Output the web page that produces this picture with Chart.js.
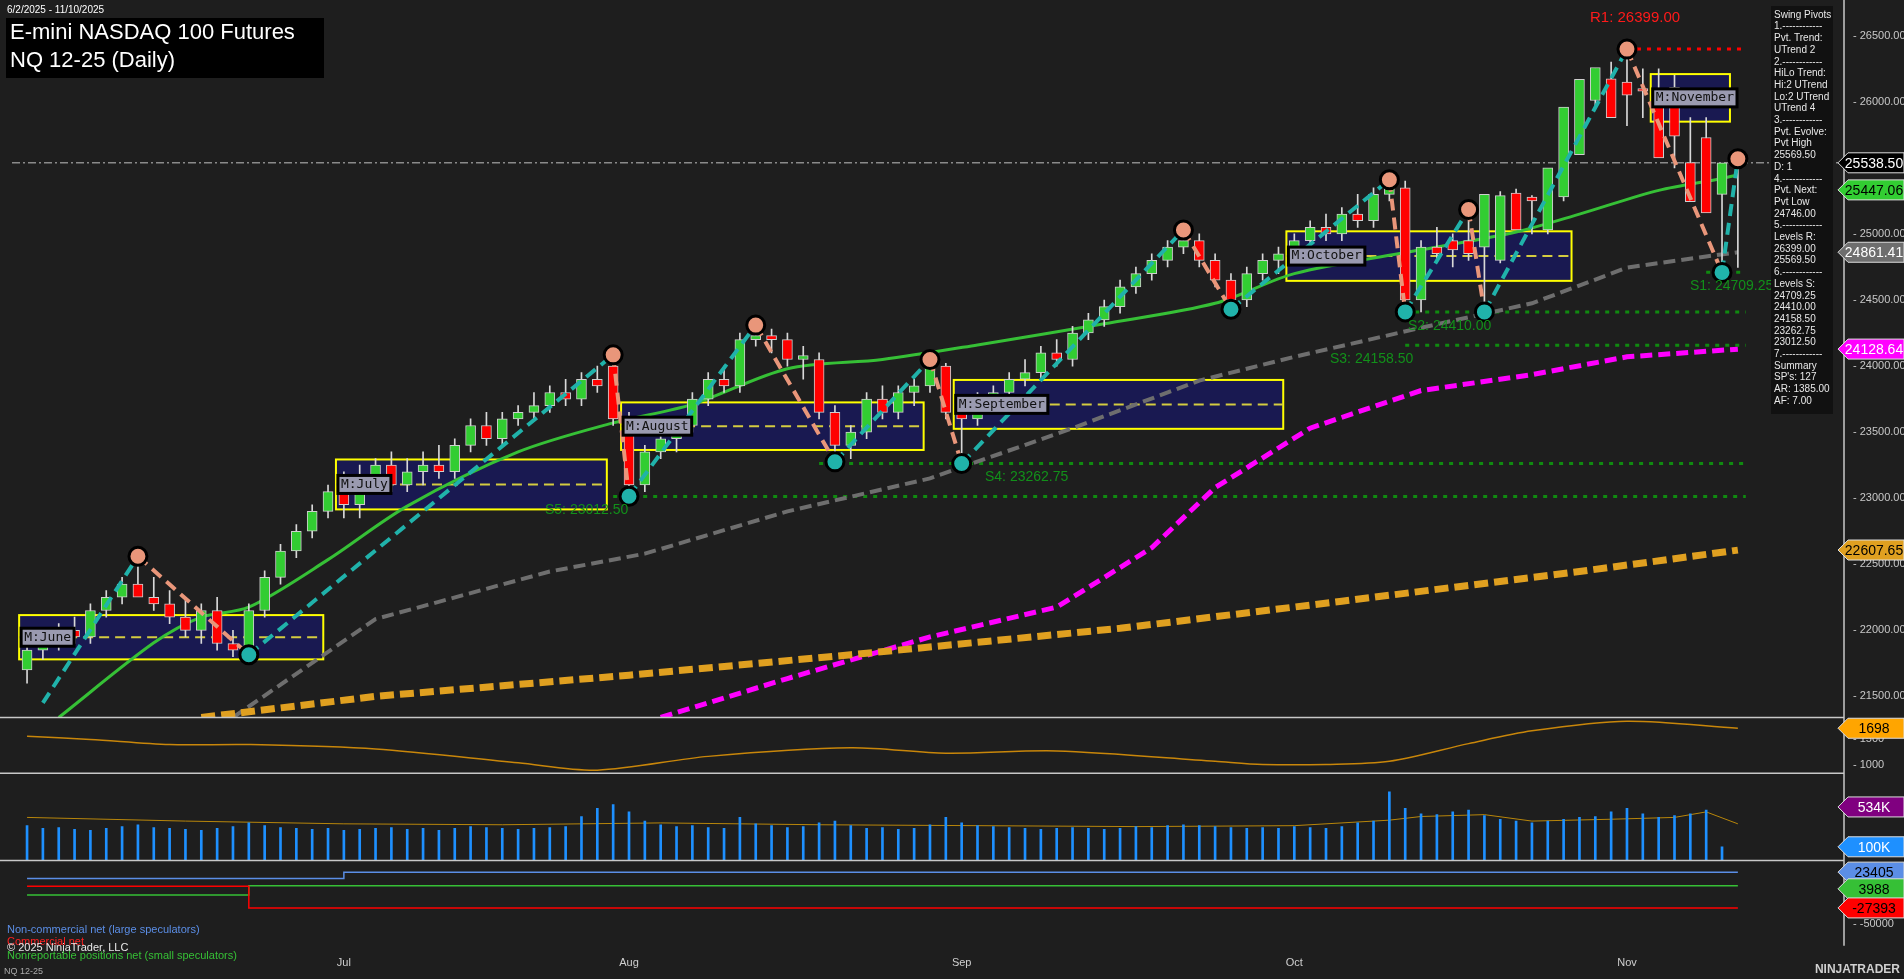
<!DOCTYPE html>
<html>
<head>
<meta charset="utf-8">
<script src="https://cdn.jsdelivr.net/npm/chart.js@4.4.0/dist/chart.umd.min.js"></script>
<style>
  html, body { margin: 0; padding: 0; background: #1e1e1e; overflow: hidden; }
  #wrap { width: 1904px; height: 979px; }
</style>
</head>
<body>
<div id="wrap"><canvas id="chart" width="1904" height="979"></canvas></div>
<script>
// daily candles, 6/2/2025 - 11/10/2025
const openP = [21700,21850,21900,22000,21950,22150,22250,22350,22250,22200,22100,22000,22150,21900,21850,22150,22400,22600,22750,22900,
  23050,22950,23150,23250,23100,23200,23250,23200,23400,23550,23450,23600,23650,23700,23800,23750,23900,24000,
  23600,23100,23350,23450,23550,23750,23900,23850,24200,24230,24200,24050,24050,23650,23400,23500,23750,23650,23800,23850,24000,
  23650,23600,23750,23800,23900,23950,24100,24050,24250,24350,24450,24600,24700,24800,24900,24950,24800,24650,24500,24700,24800,
  24850,24950,25050,25000,25150,25100,25300,25350,24500,24900,24950,24950,24900,24800,25310,25280,25030,25280,25600,26010,26175,
  26150,26100,26000,26110,25540,25730,25300,24850];
const highP = [21900,21950,22050,22100,22200,22300,22400,22560,22400,22300,22250,22200,22250,22000,22200,22450,22650,22800,22950,23100,
  23200,23250,23300,23350,23300,23350,23400,23450,23600,23650,23650,23700,23800,23850,23900,23950,24000,24085,
  23650,23400,23500,23600,23800,23950,24000,24250,24310,24280,24250,24150,24100,23700,23550,23800,23850,23850,23900,24050,24020,
  23700,23800,23850,23950,24050,24150,24200,24300,24400,24500,24650,24750,24850,24950,25030,25000,24850,24700,24750,24850,24900,
  25000,25100,25150,25200,25300,25350,25410,25400,24950,25050,25000,25185,25000,25320,25340,25290,25280,25520,25980,26250,26300,
  26399,26250,26250,26200,25880,25880,25350,25600];
const lowP = [21600,21780,21850,21900,21900,22100,22200,22300,22150,22050,21950,21900,21850,21800,21815,22100,22350,22550,22700,22850,
  22850,22850,23050,23050,23050,23100,23150,23150,23350,23400,23400,23550,23600,23650,23700,23700,23800,23550,
  23015,23050,23300,23350,23500,23700,23800,23800,24150,24100,24000,23900,23600,23275,23300,23450,23600,23600,23700,23800,23600,
  23275,23550,23650,23750,23850,23900,24000,24000,24200,24300,24400,24550,24650,24750,24850,24750,24600,24430,24450,24650,24700,
  24800,24900,24950,24950,25050,25050,25250,24450,24410,24800,24750,24800,24410,24780,25200,25000,25000,25250,25700,25950,26150,
  25820,25880,25900,25500,25350,25200,24712,24746];
const closeP = [21850,21900,22000,21950,22150,22250,22350,22250,22200,22100,22000,22150,21900,21850,22150,22400,22600,22750,22900,23050,
  22950,23150,23250,23100,23200,23250,23200,23400,23550,23450,23600,23650,23700,23800,23750,23900,23850,23600,
  23100,23350,23450,23550,23750,23900,23850,24200,24230,24200,24050,24080,23650,23400,23500,23750,23650,23800,23850,24000,23650,
  23600,23750,23800,23900,23950,24100,24050,24250,24350,24450,24600,24700,24800,24900,24950,24800,24650,24500,24700,24800,24850,
  24950,25050,25000,25150,25100,25300,25350,24500,24900,24850,24880,24850,25300,25290,25030,25250,25500,25960,26170,26260,
  25880,26050,26080,25575,25740,25245,25160,25538];
const volumeK = [330,300,310,290,280,300,320,340,310,300,290,280,300,320,360,330,310,300,290,300,
  280,290,300,310,290,300,280,300,320,310,300,290,300,310,320,430,520,560,
  480,380,340,320,330,310,300,420,350,330,310,320,360,380,330,300,310,290,300,340,420,
  360,330,320,310,300,290,300,310,300,290,300,320,310,330,340,330,320,310,300,310,
  300,320,310,300,320,360,380,700,520,460,450,480,500,440,400,380,360,380,400,420,430,
  480,520,460,420,440,460,500,100];
const volAvgIdx = [0,10,20,30,40,50,60,70,80,86,88,90,92,95,100,104,106,108];
const volAvgK = [420,380,350,340,360,340,330,320,330,390,430,440,450,380,400,420,480,350];

const atrIdx = [0,4,9,14,22,31,36,43,52,58,65,75,78,82,86,91,95,101,108];
const atrVal = [1548,1488,1391,1391,1307,1048,910,1169,1331,1229,1271,1078,1018,1018,1078,1409,1650,1831,1698];

const cotIdx = [0,13,14,19,20,108];
const cotNonComm = [14300,14300,14300,14300,23405,23405];
const cotComm = [3500,3500,-27393,-27393,-27393,-27393];
const cotSmall = [-9200,-9200,3988,3988,3988,3988];

const ma20Idx = [2,8,11,14,19,24,31,37,42,48,54,60,68,75,80,88,94,98,103,107,108];
const ma20 = [21340,21905,22100,22175,22535,22940,23350,23570,23710,23980,24050,24160,24320,24475,24700,24880,25015,25150,25330,25420,25447];
const ma50Idx = [13,22,33,39,48,57,66,74,80,88,95,101,106,108];
const ma50 = [21340,22085,22445,22580,22900,23150,23530,23890,24070,24290,24475,24745,24830,24861];
const ma100Idx = [40,48,57,65,71,75,81,88,95,101,108];
const ma100 = [21340,21635,21950,22175,22625,23080,23530,23815,23935,24070,24128];
const ma200Idx = [11,22,38,52,69,83,98,108];
const ma200 = [21340,21500,21660,21815,22015,22220,22445,22607];

// swing pivots (zigzag)
const pivotIdx = [1,7,14,37,38,46,51,57,59,73,76,86,87,91,92,101,107,108];
const pivotVal = [21450,22560,21815,24085,23015,24310,23275,24050,23262,25030,24430,25410,24410,25185,24410,26399,24709,25569];

// monthly boxes
const boxName = ['M:June','M:July','M:August','M:September','M:October','M:November'];
const boxStart = [-0.5,19.5,37.5,58.5,79.5,102.5];
const boxEnd = [18.7,36.6,56.6,79.3,97.5,107.5];
const boxHigh = [22115,23293,23725,23895,25020,26210];
const boxLow = [21780,22915,23365,23525,24645,25850];

const levelName = ['S1: 24709.25','S2: 24410.00','S3: 24158.50','S4: 23262.75','S5: 23012.50'];
const levelVal = [24709.25,24410,24158.5,23262.75,23012.5];
const levelFrom = [106,87,87,50,37];
const monthTickIdx = [20,38,59,80,101];
const monthTickName = ['Jul','Aug','Sep','Oct','Nov'];

const infoLines = ['Swing Pivots','1.------------','Pvt. Trend:','UTrend 2','2.------------','HiLo Trend:','Hi:2 UTrend','Lo:2 UTrend','UTrend 4',
  '3.------------','Pvt. Evolve:','Pvt High','25569.50','D: 1','4.------------','Pvt. Next:','Pvt Low','24746.00','5.------------',
  'Levels R:','26399.00','25569.50','6.------------','Levels S:','24709.25','24410.00','24158.50','23262.75','23012.50','7.------------',
  'Summary',"SP's: 127",'AR: 1385.00','AF: 7.00'];

const pts = (xs, ys) => xs.map((x, i) => ({ x: x, y: ys[i] }));
const bodies = openP.map((o, i) => ({ x: i, y: [Math.min(o, closeP[i]), Math.max(o, closeP[i]) + (o === closeP[i] ? 5 : 0)] }));
const wicks = openP.map((o, i) => ({ x: i, y: [lowP[i], highP[i]] }));
const upColors = openP.map((o, i) => closeP[i] >= o ? '#32cd32' : '#ff0000');

// split zigzag into up-legs and down-legs
const upLegs = [], downLegs = [];
for (let i = 0; i < pivotIdx.length - 1; i++) {
  const a = { x: pivotIdx[i], y: pivotVal[i] }, b = { x: pivotIdx[i + 1], y: pivotVal[i + 1] };
  const target = pivotVal[i + 1] > pivotVal[i] ? upLegs : downLegs;
  target.push(a, b, { x: pivotIdx[i + 1] + 0.01, y: null });
}
const highPivots = [], lowPivots = [];
for (let i = 1; i < pivotIdx.length; i++) {
  const p = { x: pivotIdx[i], y: pivotVal[i] };
  if (pivotVal[i] > pivotVal[i - 1]) highPivots.push(p); else lowPivots.push(p);
}

function tag(ctx, y, text, bg, fg) {
  const x = 1838;
  ctx.beginPath();
  ctx.moveTo(x, y);
  ctx.lineTo(x + 10, y - 10);
  ctx.lineTo(1904, y - 10);
  ctx.lineTo(1904, y + 10);
  ctx.lineTo(x + 10, y + 10);
  ctx.closePath();
  ctx.fillStyle = bg;
  ctx.fill();
  ctx.strokeStyle = '#dddddd';
  ctx.lineWidth = 1;
  ctx.stroke();
  ctx.fillStyle = fg;
  ctx.font = '14px Arial';
  ctx.textAlign = 'center';
  ctx.textBaseline = 'middle';
  ctx.fillText(text, 1874, y + 1);
}

const overlay = {
  id: 'overlay',
  beforeDatasetsDraw(chart) {
    const ctx = chart.ctx, xs = chart.scales.x, ys = chart.scales.y;
    ctx.save();
    // month boxes
    boxName.forEach((n, i) => {
      const x1 = xs.getPixelForValue(boxStart[i]), x2 = xs.getPixelForValue(boxEnd[i]);
      const y1 = ys.getPixelForValue(boxHigh[i]), y2 = ys.getPixelForValue(boxLow[i]);
      ctx.fillStyle = '#191951';
      ctx.fillRect(x1, y1, x2 - x1, y2 - y1);
      ctx.strokeStyle = '#ffff00';
      ctx.lineWidth = 2;
      ctx.strokeRect(x1, y1, x2 - x1, y2 - y1);
      ctx.setLineDash([10, 6]);
      ctx.strokeStyle = '#d4cc40';
      ctx.beginPath();
      ctx.moveTo(x1, (y1 + y2) / 2);
      ctx.lineTo(x2, (y1 + y2) / 2);
      ctx.stroke();
      ctx.setLineDash([]);
    });
    // support levels
    ctx.setLineDash([4, 6]);
    ctx.lineWidth = 3;
    ctx.strokeStyle = '#108a10';
    levelVal.forEach((v, i) => {
      const y = ys.getPixelForValue(v);
      ctx.beginPath();
      ctx.moveTo(xs.getPixelForValue(levelFrom[i]), y);
      ctx.lineTo(xs.getPixelForValue(108.5), y);
      ctx.stroke();
    });
    // R1
    ctx.strokeStyle = '#ff0000';
    ctx.beginPath();
    ctx.moveTo(xs.getPixelForValue(101), ys.getPixelForValue(26399));
    ctx.lineTo(xs.getPixelForValue(108.5), ys.getPixelForValue(26399));
    ctx.stroke();
    // last price dash-dot line
    ctx.setLineDash([8, 3, 2, 3]);
    ctx.lineWidth = 1.5;
    ctx.strokeStyle = '#8a8a8a';
    const yl = ys.getPixelForValue(25538.5);
    ctx.beginPath();
    ctx.moveTo(chart.chartArea.left, yl);
    ctx.lineTo(chart.chartArea.right, yl);
    ctx.stroke();
    ctx.setLineDash([]);
    ctx.restore();
  },
  afterDatasetsDraw(chart) {
    const ctx = chart.ctx, xs = chart.scales.x, ys = chart.scales.y;
    ctx.save();
    // month labels
    ctx.font = '13px "DejaVu Sans Mono"';
    ctx.textBaseline = 'middle';
    ctx.textAlign = 'left';
    boxName.forEach((n, i) => {
      const x1 = xs.getPixelForValue(boxStart[i]) + 2;
      const ym = (ys.getPixelForValue(boxHigh[i]) + ys.getPixelForValue(boxLow[i])) / 2;
      const w = ctx.measureText(n).width + 6;
      ctx.fillStyle = '#9a9ab0';
      ctx.fillRect(x1, ym - 9, w, 18);
      ctx.strokeStyle = '#000';
      ctx.lineWidth = 3;
      ctx.strokeRect(x1, ym - 9, w, 18);
      ctx.fillStyle = '#111';
      ctx.fillText(n, x1 + 3, ym);
    });
    // level labels
    ctx.font = '14px Arial';
    ctx.fillStyle = '#12901a';
    const lblX = [1690, 1408, 1330, 985, 545];
    levelName.forEach((n, i) => ctx.fillText(n, lblX[i], ys.getPixelForValue(levelVal[i]) + 14));
    ctx.fillStyle = '#ff1a1a';
    ctx.font = '15px Arial';
    ctx.fillText('R1: 26399.00', 1590, 18);
    // title
    ctx.fillStyle = '#000';
    ctx.fillRect(6, 18, 318, 60);
    ctx.fillStyle = '#fff';
    ctx.font = '22px Arial';
    ctx.textBaseline = 'top';
    ctx.fillText('E-mini NASDAQ 100 Futures', 10, 22);
    ctx.fillText('NQ 12-25 (Daily)', 10, 50);
    ctx.font = '10px Arial';
    ctx.fillText('6/2/2025 - 11/10/2025', 7, 5);
    // info box
    ctx.fillStyle = '#111';
    ctx.fillRect(1771, 6, 62, 408);
    ctx.fillStyle = '#e8e8e8';
    ctx.font = '10px Arial';
    infoLines.forEach((l, i) => ctx.fillText(l, 1774, 10 + i * 11.7));
    // panel separators
    ctx.strokeStyle = '#c8c8c8';
    ctx.lineWidth = 1.5;
    ['y', 'yAtr', 'yVol'].forEach(id => {
      const b = chart.scales[id].bottom;
      ctx.beginPath();
      ctx.moveTo(0, b);
      ctx.lineTo(1844, b);
      ctx.stroke();
    });
    ctx.beginPath();
    ctx.moveTo(1844, 0);
    ctx.lineTo(1844, chart.scales.yCot.bottom);
    ctx.stroke();
    // legend
    ctx.font = '11px Arial';
    ctx.fillStyle = '#5b8ee6';
    ctx.fillText('Non-commercial net (large speculators)', 7, 924);
    ctx.fillStyle = '#ff2020';
    ctx.fillText('Commercial net', 7, 936);
    ctx.fillStyle = '#e8e8e8';
    ctx.fillText('\u00a9 2025 NinjaTrader, LLC', 7, 942);
    ctx.fillStyle = '#36c036';
    ctx.fillText('Nonreportable positions net (small speculators)', 7, 950);
    ctx.fillStyle = '#aaa';
    ctx.font = '9px Arial';
    ctx.fillText('NQ 12-25', 4, 967);
    ctx.font = 'bold 12px Arial';
    ctx.fillStyle = '#d0d0d0';
    ctx.textAlign = 'right';
    ctx.fillText('NINJATRADER', 1900, 964);
    // price tags
    tag(ctx, ys.getPixelForValue(25538.5), '25538.50', '#000', '#fff');
    tag(ctx, ys.getPixelForValue(25447.06) + 15, '25447.06', '#32cd32', '#000');
    tag(ctx, ys.getPixelForValue(24861.41), '24861.41', '#6e6e6e', '#fff');
    tag(ctx, ys.getPixelForValue(24128.64), '24128.64', '#ff00ff', '#fff');
    tag(ctx, ys.getPixelForValue(22607.65), '22607.65', '#e0a020', '#000');
    tag(ctx, chart.scales.yAtr.getPixelForValue(1698), '1698', '#ffa500', '#000');
    tag(ctx, chart.scales.yVol.getPixelForValue(534000), '534K', '#800080', '#fff');
    tag(ctx, chart.scales.yVol.getPixelForValue(100000), '100K', '#1e90ff', '#fff');
    tag(ctx, chart.scales.yCot.getPixelForValue(23405), '23405', '#5b8ee6', '#000');
    tag(ctx, chart.scales.yCot.getPixelForValue(3988) + 3, '3988', '#36c036', '#000');
    tag(ctx, chart.scales.yCot.getPixelForValue(-27393), '-27393', '#ff0000', '#000');
    ctx.restore();
  }
};

const ctx = document.getElementById('chart').getContext('2d');
new Chart(ctx, {
  type: 'bar',
  data: {
    datasets: [
      { type: 'line', data: pts(ma200Idx, ma200), yAxisID: 'y', borderColor: '#e0a020', borderWidth: 7, borderDash: [14, 6], pointRadius: 0, order: 9 },
      { type: 'line', data: pts(ma100Idx, ma100), yAxisID: 'y', borderColor: '#ff00ff', borderWidth: 5, borderDash: [12, 6], pointRadius: 0, order: 9 },
      { type: 'line', data: pts(ma50Idx, ma50), yAxisID: 'y', borderColor: '#6e6e6e', borderWidth: 4, borderDash: [12, 6], pointRadius: 0, order: 9 },
      { type: 'line', data: pts(ma20Idx, ma20), yAxisID: 'y', borderColor: '#36c036', borderWidth: 3, pointRadius: 0, tension: 0.3, order: 8 },
      { data: wicks, yAxisID: 'y', backgroundColor: '#d8d8d8', barThickness: 1, grouped: false, order: 6 },
      { data: bodies, yAxisID: 'y', backgroundColor: upColors, borderColor: '#cfcfcf', borderWidth: 1, borderSkipped: false, barThickness: 10, grouped: false, order: 5 },
      { type: 'line', data: upLegs, yAxisID: 'y', borderColor: '#20b2aa', borderWidth: 4, borderDash: [12, 7], pointRadius: 0, spanGaps: false, order: 3 },
      { type: 'line', data: downLegs, yAxisID: 'y', borderColor: '#e9967a', borderWidth: 4, borderDash: [12, 7], pointRadius: 0, spanGaps: false, order: 3 },
      { type: 'scatter', data: highPivots, yAxisID: 'y', pointRadius: 9, backgroundColor: '#e9967a', borderColor: '#000', borderWidth: 3, order: 2 },
      { type: 'scatter', data: lowPivots, yAxisID: 'y', pointRadius: 9, backgroundColor: '#20b2aa', borderColor: '#000', borderWidth: 3, order: 2 },
      { type: 'line', data: pts(atrIdx, atrVal), yAxisID: 'yAtr', borderColor: '#c8860a', borderWidth: 1.5, pointRadius: 0, tension: 0.3 },
      { data: volumeK.map((v, i) => ({ x: i, y: [-50000, v * 1000] })), yAxisID: 'yVol', backgroundColor: '#1e90ff', barThickness: 2, grouped: false },
      { type: 'line', data: volAvgIdx.map((x, i) => ({ x: x, y: volAvgK[i] * 1000 })), yAxisID: 'yVol', borderColor: '#b8860b', borderWidth: 1, pointRadius: 0 },
      { type: 'line', data: pts(cotIdx, cotNonComm), yAxisID: 'yCot', borderColor: '#5b8ee6', borderWidth: 1.5, pointRadius: 0, stepped: true },
      { type: 'line', data: pts(cotIdx, cotComm), yAxisID: 'yCot', borderColor: '#ff0000', borderWidth: 1.5, pointRadius: 0, stepped: true },
      { type: 'line', data: pts(cotIdx, cotSmall), yAxisID: 'yCot', borderColor: '#36c036', borderWidth: 1.5, pointRadius: 0, stepped: true }
    ]
  },
  options: {
    responsive: false,
    animation: false,
    layout: { padding: { top: 0, bottom: 6, left: 0, right: 0 } },
    plugins: { legend: { display: false }, tooltip: { enabled: false } },
    scales: {
      x: {
        type: 'linear', min: -0.95, max: 114.7, offset: false,
        grid: { display: false }, border: { display: false },
        afterBuildTicks: s => { s.ticks = monthTickIdx.map(v => ({ value: v })); },
        ticks: { color: '#d0d0d0', font: { size: 11 }, maxRotation: 0, autoSkip: false,
          callback: v => monthTickName[monthTickIdx.indexOf(v)] }
      },
      y: {
        position: 'right', stack: 'p', stackWeight: 720, min: 21340, max: 26680,
        grid: { display: false }, border: { display: false },
        afterFit: s => { s.width = 60; },
        afterBuildTicks: s => { s.ticks = [26500, 26000, 25500, 25000, 24500, 24000, 23500, 23000, 22500, 22000, 21500].map(v => ({ value: v })); },
        ticks: { color: '#c8c8c8', font: { size: 11 }, padding: 1, callback: v => '- ' + v.toFixed(2) }
      },
      yAtr: {
        position: 'right', stack: 'p', stackWeight: 57, min: 850, max: 1900,
        grid: { display: false }, border: { display: false },
        afterFit: s => { s.width = 60; },
        afterBuildTicks: s => { s.ticks = [1000, 1500].map(v => ({ value: v })); },
        ticks: { color: '#c8c8c8', font: { size: 11 }, padding: 1, callback: v => '- ' + v }
      },
      yVol: {
        position: 'right', stack: 'p', stackWeight: 89, min: -50000, max: 900000,
        grid: { display: false }, border: { display: false },
        afterFit: s => { s.width = 60; },
        ticks: { display: false }
      },
      yCot: {
        position: 'right', stack: 'p', stackWeight: 87, min: -81180, max: 39840,
        grid: { display: false }, border: { display: false },
        afterFit: s => { s.width = 60; },
        afterBuildTicks: s => { s.ticks = [-50000].map(v => ({ value: v })); },
        ticks: { color: '#c8c8c8', font: { size: 11 }, padding: 1, callback: v => '- ' + v }
      }
    }
  },
  plugins: [overlay]
});
</script>
</body>
</html>
